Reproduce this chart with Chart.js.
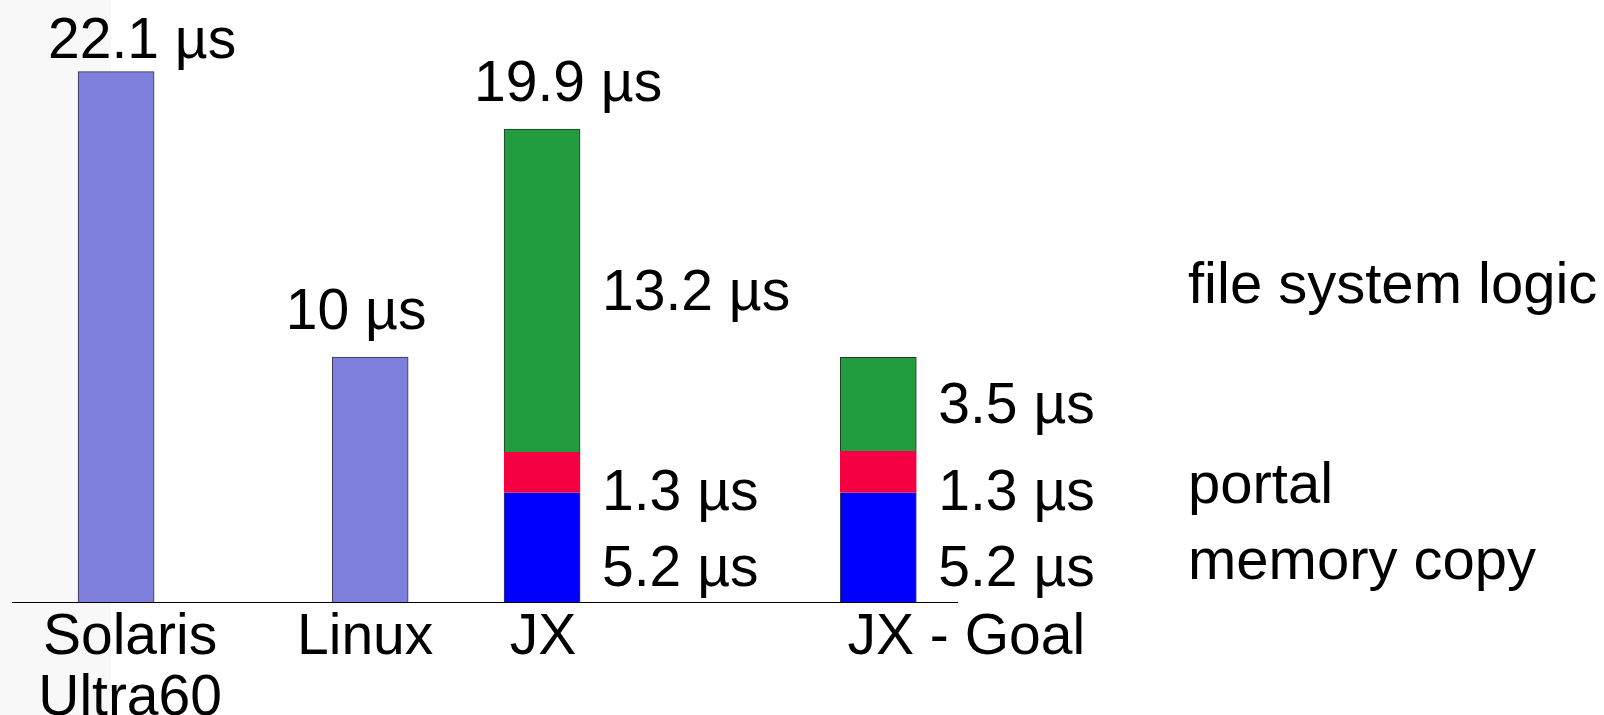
<!DOCTYPE html>
<html>
<head>
<meta charset="utf-8">
<script src="https://cdn.jsdelivr.net/npm/chart.js@4.4.1/dist/chart.umd.min.js"></script>
<style>
  html, body { margin: 0; padding: 0; }
  body {
    width: 1604px;
    height: 715px;
    overflow: hidden;
    background: linear-gradient(to right, #f8f8f8 0, #f8f8f8 111px, #ffffff 111px);
  }
  canvas { display: block; }
</style>
</head>
<body>
<canvas id="chart" width="1604" height="715"></canvas>
<script>
// systems, and where each one sits along the (uneven) x axis
const categories = [["Solaris", "Ultra60"], "Linux", "JX", "JX - Goal"];
const slots = [0, 3, 5.03, 9];

// bar heights in µs, as drawn in the picture
const totalTime = [22.1, 10.2, null, null];
const memoryCopy = [null, null, 4.55, 4.55];
const portal = [null, null, 1.7, 1.74];
const fsLogic = [null, null, 13.45, 3.9];

// text written on the chart
const totalLabels = ["22.1 µs", "10 µs", "19.9 µs", null];
const memoryLabels = [null, null, "5.2 µs", "5.2 µs"];
const portalLabels = [null, null, "1.3 µs", "1.3 µs"];
const fsLogicLabels = [null, null, "13.2 µs", "3.5 µs"];

// label placement tweaks (pixels)
const totalLabelDx = [26, -14, 26, 0];
const totalLabelDy = [-14, -28, -28, 0];
const categoryLabelDx = [14, -5, 1, 88];

const FONT = '57px "Liberation Sans", Arial, Helvetica, sans-serif';
const LEGEND_FONT = '58px "Liberation Sans", Arial, Helvetica, sans-serif';

function points(values) {
  return slots
    .map((x, i) => ({ x: x, y: values[i] }))
    .filter((p) => p.y !== null);
}

const sideBorder = { top: 0, right: 1, bottom: 0, left: 1 };
const topBorder = { top: 1, right: 1, bottom: 0, left: 1 };

const datasets = [
  {
    label: "total",
    data: points(totalTime),
    backgroundColor: "#7f7fdd",
    borderColor: "#333344",
    borderWidth: topBorder,
    texts: totalLabels,
  },
  {
    label: "memory copy",
    data: points(memoryCopy),
    backgroundColor: "#0000ff",
    borderColor: "#333366",
    borderWidth: sideBorder,
    texts: memoryLabels,
    textDy: 39,
  },
  {
    label: "portal",
    data: points(portal),
    backgroundColor: "#f50042",
    borderColor: "#f50042",
    borderWidth: sideBorder,
    texts: portalLabels,
    textDy: 38,
  },
  {
    label: "file system logic",
    data: points(fsLogic),
    backgroundColor: "#229c3e",
    borderColor: "#1d3d24",
    borderWidth: topBorder,
    texts: fsLogicLabels,
    textDy: 19,
  },
];

// everything that is text: values, segment labels, legend, categories, axis line
const annotations = {
  id: "annotations",
  afterDatasetsDraw(chart) {
    const ctx = chart.ctx;
    const xScale = chart.scales.x;
    const yScale = chart.scales.y;
    const base = yScale.getPixelForValue(0);
    const area = chart.chartArea;

    ctx.save();

    // baseline
    ctx.strokeStyle = "#000";
    ctx.lineWidth = 1;
    ctx.beginPath();
    ctx.moveTo(area.left, Math.round(base) + 0.5);
    ctx.lineTo(area.right, Math.round(base) + 0.5);
    ctx.stroke();

    ctx.fillStyle = "#000";
    ctx.font = FONT;
    ctx.textBaseline = "alphabetic";

    // totals above bars
    ctx.textAlign = "center";
    slots.forEach((slot, i) => {
      if (!totalLabels[i]) return;
      const sum = [totalTime, memoryCopy, portal, fsLogic]
        .reduce((s, arr) => s + (arr[i] || 0), 0);
      const x = xScale.getPixelForValue(slot);
      const y = yScale.getPixelForValue(sum);
      ctx.fillText(totalLabels[i], x + totalLabelDx[i], y + totalLabelDy[i]);
    });

    // segment labels to the right of stacked bars, plus legend text
    ctx.textAlign = "left";
    chart.data.datasets.forEach((ds, d) => {
      if (d === 0) return;
      const meta = chart.getDatasetMeta(d);
      let legendY = null;
      meta.data.forEach((el, j) => {
        const idx = slots.indexOf(ds.data[j].x);
        const text = ds.texts[idx];
        if (!text) return;
        const mid = (el.y + el.base) / 2;
        const y = mid + ds.textDy;
        ctx.fillText(text, el.x + el.width / 2 + 22, y);
        if (legendY === null) legendY = y - 7;
      });
      if (legendY !== null) {
        ctx.font = LEGEND_FONT;
        ctx.fillText(ds.label, area.right + 230, legendY);
        ctx.font = FONT;
      }
    });

    // category labels under the axis
    ctx.textAlign = "center";
    categories.forEach((cat, i) => {
      const lines = Array.isArray(cat) ? cat : [cat];
      const x = xScale.getPixelForValue(slots[i]) + categoryLabelDx[i];
      lines.forEach((line, k) => {
        ctx.fillText(line, x, base + 52 + k * 61);
      });
    });

    ctx.restore();
  },
};

new Chart(document.getElementById("chart").getContext("2d"), {
  type: "bar",
  data: { datasets },
  options: {
    responsive: false,
    animation: false,
    events: [],
    layout: {
      padding: { top: 0, bottom: 113, left: 12, right: 646 },
    },
    datasets: {
      bar: {
        barThickness: 76,
        borderSkipped: false,
      },
    },
    scales: {
      x: {
        type: "linear",
        display: false,
        offset: false,
        stacked: true,
        min: -1.229,
        max: 9.941,
      },
      y: {
        display: false,
        stacked: true,
        min: 0,
        max: 25.0833,
      },
    },
    plugins: {
      legend: { display: false },
      tooltip: { enabled: false },
    },
  },
  plugins: [annotations],
});
</script>
</body>
</html>
